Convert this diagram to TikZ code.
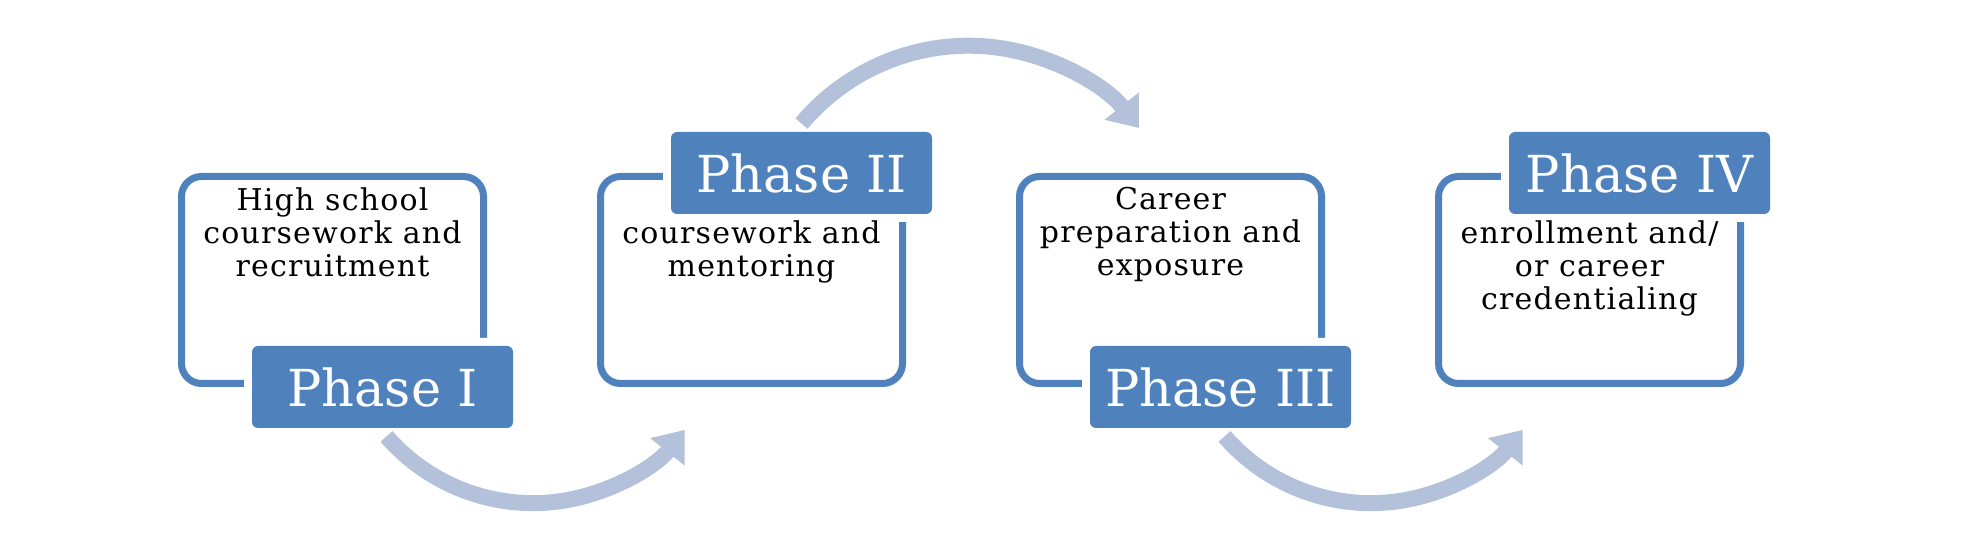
\documentclass[tikz,border=0pt]{standalone}
\usepackage{fontspec}
\setmainfont{DejaVu Serif}
\newfontfamily\bodyfont[LetterSpace=4]{DejaVu Serif}
\usetikzlibrary{positioning, arrows.meta}
\definecolor{phaseblue}{RGB}{79,129,189}
\definecolor{flowblue}{RGB}{179,193,219}
\tikzset{>=latex}

\begin{document}
\begin{tikzpicture}[x=0.5pt, y=0.5pt,
    frame/.style={draw=phaseblue, line width=3.5pt, rounded corners=10pt,
        minimum width=151pt, minimum height=103.5pt},
    phase/.style={fill=phaseblue, preaction={draw=white, line width=8pt},
        rounded corners=3pt, minimum width=130.5pt, minimum height=41pt,
        inner sep=0pt, text=white, font=\fontsize{25.5}{30}\selectfont},
    body/.style={align=center, inner sep=0pt, font=\bodyfont\fontsize{15}{16.5}\selectfont},
    flow/.style={draw=flowblue, line width=8pt, -{Triangle[width=21pt, length=14pt]}}]
    \useasboundingbox (0,0) rectangle (1968,540);
    \node[frame] (b1) at (332.5,260) {};
    \node[frame] (b2) at (751.5,260) {};
    \node[frame] (b3) at (1170.5,260) {};
    \node[frame] (b4) at (1589.5,260) {};
    \node[phase, xshift=25pt] (p1) at (b1.south) {Phase I};
    \node[phase, xshift=25pt] (p2) at (b2.north) {Phase II};
    \node[phase, xshift=25pt] (p3) at (b3.south) {Phase III};
    \node[phase, xshift=25pt] (p4) at (b4.north) {Phase IV};
    \node[body, below=7pt of b1.north] (t1) {High school\\coursework and\\recruitment};
    \node[body, below=23.75pt of b2.north] (t2) {coursework and\\mentoring};
    \node[body, below=7pt of b3.north] (t3) {Career\\preparation and\\exposure};
    \node[body, below=23.75pt of b4.north] (t4) {enrollment and/\\or career\\credentialing};
    % arcs from one phase to the next
    \draw[flow] ([xshift=2pt, yshift=-4pt]p1.south) arc[start angle=221, end angle=321.5, radius=194];
    \draw[flow] ([yshift=4pt]p2.north) arc[start angle=140, end angle=38.5, radius=218];
    \draw[flow] ([xshift=2pt, yshift=-4pt]p3.south) arc[start angle=221, end angle=321.5, radius=194];
\end{tikzpicture}
\end{document}
